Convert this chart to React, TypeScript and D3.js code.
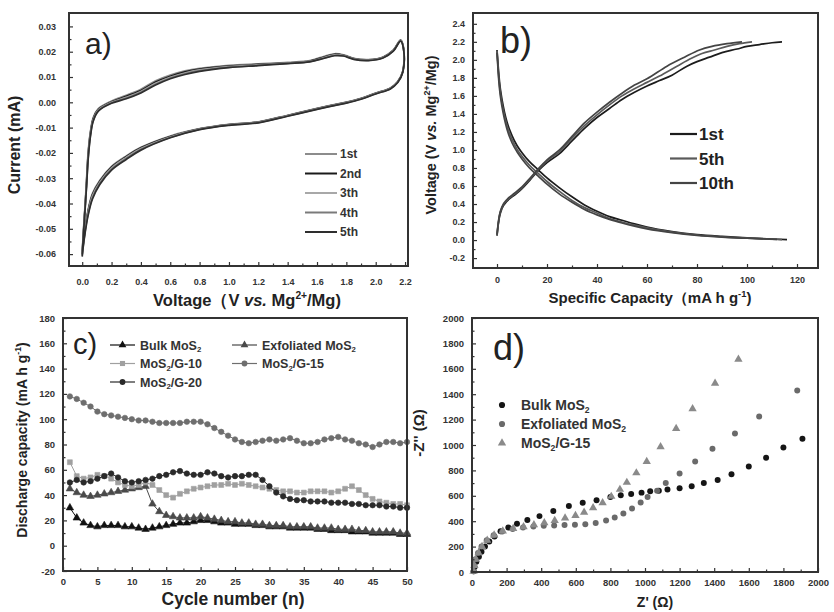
import { useEffect, useRef } from 'react'
import * as d3 from 'd3'

type Pt = [number, number]

const FONT = '"Liberation Sans", Arial, Helvetica, sans-serif'

// ---------- a) cyclic voltammetry: [V, mA] ----------
const cvLabels = ['1st', '2nd', '3th', '4th', '5th']
const cvColors = ['#8c8c8c', '#1a1a1a', '#a8a8a8', '#7a7a7a', '#2e2e2e']
const cv1st: Pt[] = [[0,-0.059],[0.01,-0.049],[0.02,-0.040],[0.03,-0.030],[0.04,-0.020],[0.055,-0.012],[0.075,-0.006],[0.11,-0.0025],[0.2,0.0005],[0.3,0.0028],[0.4,0.0052],[0.5,0.0085],[0.6,0.0108],[0.7,0.0124],[0.8,0.0134],[1.0,0.0146],[1.2,0.0152],[1.4,0.0158],[1.55,0.0165],[1.65,0.0182],[1.72,0.0192],[1.78,0.0188],[1.85,0.0174],[1.95,0.0169],[2.05,0.0179],[2.12,0.0207],[2.17,0.0247],[2.19,0.0215],[2.185,0.0125],[2.15,0.0082],[2.1,0.0057],[2.0,0.0037],[1.9,0.0016],[1.8,0.0001],[1.7,-0.0011],[1.6,-0.0024],[1.4,-0.0051],[1.2,-0.0077],[1.0,-0.0087],[0.8,-0.0104],[0.6,-0.0133],[0.4,-0.0178],[0.3,-0.0212],[0.2,-0.0253],[0.12,-0.0308],[0.07,-0.036],[0.04,-0.0425],[0.02,-0.0495],[0.005,-0.056],[0,-0.059]]
const cv2nd: Pt[] = [[0,-0.060],[0.01,-0.050],[0.02,-0.041],[0.03,-0.031],[0.04,-0.021],[0.055,-0.0125],[0.075,-0.0065],[0.11,-0.0028],[0.2,0.0002],[0.3,0.0024],[0.4,0.0047],[0.5,0.008],[0.6,0.0103],[0.7,0.012],[0.8,0.0131],[1.0,0.0143],[1.2,0.015],[1.4,0.0156],[1.55,0.0163],[1.65,0.0179],[1.72,0.019],[1.78,0.0186],[1.85,0.0173],[1.95,0.0168],[2.05,0.0178],[2.12,0.0205],[2.17,0.0245],[2.19,0.0212],[2.185,0.0123],[2.15,0.0081],[2.1,0.0056],[2.0,0.0036],[1.9,0.0015],[1.8,0.0],[1.7,-0.0012],[1.6,-0.0025],[1.4,-0.0052],[1.2,-0.0078],[1.0,-0.0088],[0.8,-0.0105],[0.6,-0.0135],[0.4,-0.018],[0.3,-0.0215],[0.2,-0.0256],[0.12,-0.0312],[0.07,-0.0365],[0.04,-0.043],[0.02,-0.05],[0.005,-0.057],[0,-0.060]]
const cv3th: Pt[] = [[0,-0.060],[0.01,-0.050],[0.02,-0.041],[0.03,-0.032],[0.04,-0.022],[0.055,-0.013],[0.075,-0.007],[0.11,-0.003],[0.2,0.0],[0.3,0.002],[0.4,0.0043],[0.5,0.0075],[0.6,0.0099],[0.7,0.0116],[0.8,0.0128],[1.0,0.0141],[1.2,0.0148],[1.4,0.0155],[1.55,0.0162],[1.65,0.0177],[1.72,0.0188],[1.78,0.0185],[1.85,0.0172],[1.95,0.0167],[2.05,0.0177],[2.12,0.0204],[2.17,0.0244],[2.19,0.021],[2.185,0.0122],[2.15,0.008],[2.1,0.0055],[2.0,0.0035],[1.9,0.0014],[1.8,-0.0001],[1.7,-0.0013],[1.6,-0.0026],[1.4,-0.0053],[1.2,-0.0079],[1.0,-0.0089],[0.8,-0.0106],[0.6,-0.0137],[0.4,-0.0183],[0.3,-0.0218],[0.2,-0.026],[0.12,-0.0316],[0.07,-0.037],[0.04,-0.0436],[0.02,-0.0505],[0.005,-0.0572],[0,-0.060]]
const cv4th: Pt[] = [[0,-0.0605],[0.01,-0.0505],[0.02,-0.0415],[0.03,-0.0325],[0.04,-0.0225],[0.055,-0.0135],[0.075,-0.0072],[0.11,-0.0032],[0.2,-0.0002],[0.3,0.0017],[0.4,0.004],[0.5,0.0071],[0.6,0.0096],[0.7,0.0113],[0.8,0.0125],[1.0,0.0139],[1.2,0.0147],[1.4,0.0154],[1.55,0.0161],[1.65,0.0175],[1.72,0.0186],[1.78,0.0184],[1.85,0.0171],[1.95,0.0166],[2.05,0.0176],[2.12,0.0203],[2.17,0.0243],[2.19,0.0209],[2.185,0.0121],[2.15,0.0079],[2.1,0.0054],[2.0,0.0034],[1.9,0.0013],[1.8,-0.0002],[1.7,-0.0014],[1.6,-0.0027],[1.4,-0.0054],[1.2,-0.008],[1.0,-0.009],[0.8,-0.0107],[0.6,-0.0139],[0.4,-0.0186],[0.3,-0.0222],[0.2,-0.0264],[0.12,-0.032],[0.07,-0.0376],[0.04,-0.0442],[0.02,-0.051],[0.005,-0.0576],[0,-0.0605]]
const cv5th: Pt[] = [[0,-0.061],[0.01,-0.051],[0.02,-0.042],[0.03,-0.033],[0.04,-0.023],[0.055,-0.014],[0.075,-0.0075],[0.11,-0.0035],[0.2,-0.0004],[0.3,0.0014],[0.4,0.0037],[0.5,0.0068],[0.6,0.0093],[0.7,0.011],[0.8,0.0122],[1.0,0.0137],[1.2,0.0145],[1.4,0.0153],[1.55,0.016],[1.65,0.0174],[1.72,0.0184],[1.78,0.0183],[1.85,0.017],[1.95,0.0165],[2.05,0.0175],[2.12,0.0202],[2.17,0.0242],[2.19,0.0208],[2.185,0.012],[2.15,0.0078],[2.1,0.0053],[2.0,0.0033],[1.9,0.0012],[1.8,-0.0003],[1.7,-0.0015],[1.6,-0.0028],[1.4,-0.0055],[1.2,-0.0081],[1.0,-0.0091],[0.8,-0.0108],[0.6,-0.014],[0.4,-0.0189],[0.3,-0.0226],[0.2,-0.0268],[0.12,-0.0325],[0.07,-0.0382],[0.04,-0.0448],[0.02,-0.0516],[0.005,-0.058],[0,-0.061]]
const cvSeries = [cv1st, cv2nd, cv3th, cv4th, cv5th]
const cvXTicks = [0, 0.2, 0.4, 0.6, 0.8, 1.0, 1.2, 1.4, 1.6, 1.8, 2.0, 2.2]
const cvXMinor = [0.1, 0.3, 0.5, 0.7, 0.9, 1.1, 1.3, 1.5, 1.7, 1.9, 2.1]
const cvYTicks = [0.03, 0.02, 0.01, 0, -0.01, -0.02, -0.03, -0.04, -0.05, -0.06]
const cvYMinor = [0.025, 0.015, 0.005, -0.005, -0.015, -0.025, -0.035, -0.045, -0.055]

// ---------- b) charge / discharge: [mA h g-1, V] ----------
const gcdLabels = ['1st', '5th', '10th']
const gcdColors = ['#1c1c1c', '#5a5a5a', '#444444']
const dis1st: Pt[] = [[0,2.11],[0.5,1.92],[1,1.76],[2,1.56],[3,1.42],[4,1.31],[6,1.16],[8,1.05],[10,0.97],[13,0.87],[16.5,0.78],[20,0.69],[25,0.58],[30,0.48],[35,0.39],[40,0.32],[45,0.26],[50,0.22],[55,0.18],[60,0.145],[70,0.095],[80,0.06],[90,0.04],[100,0.025],[110,0.012],[116,0.005]]
const dis5th: Pt[] = [[0,2.1],[0.5,1.88],[1,1.72],[2,1.52],[3,1.38],[4,1.27],[6,1.12],[8,1.01],[10,0.93],[13,0.83],[16.5,0.74],[20,0.65],[25,0.54],[30,0.44],[35,0.36],[40,0.3],[45,0.24],[50,0.2],[55,0.165],[60,0.135],[70,0.088],[80,0.056],[90,0.036],[100,0.022],[108,0.012],[114,0.006]]
const dis10th: Pt[] = [[0,2.08],[0.5,1.85],[1,1.68],[2,1.48],[3,1.34],[4,1.23],[6,1.08],[8,0.98],[10,0.9],[13,0.8],[16.5,0.71],[20,0.62],[25,0.51],[30,0.42],[35,0.34],[40,0.28],[45,0.23],[50,0.19],[55,0.155],[60,0.125],[70,0.082],[80,0.052],[90,0.033],[100,0.02],[106,0.013],[112,0.007]]
const chg1st: Pt[] = [[0,0.05],[0.5,0.17],[1,0.26],[2,0.35],[4,0.43],[7,0.5],[10,0.57],[13,0.66],[16.5,0.77],[20,0.86],[25,0.96],[30,1.1],[35,1.24],[40,1.36],[45,1.46],[50,1.56],[55,1.64],[60,1.71],[65,1.77],[70,1.83],[76,1.93],[80,1.98],[85,2.03],[90,2.08],[96,2.12],[100,2.15],[105,2.17],[110,2.19],[114,2.2]]
const chg5th: Pt[] = [[0,0.05],[0.5,0.18],[1,0.27],[2,0.36],[4,0.44],[7,0.51],[10,0.58],[13,0.67],[16.5,0.78],[20,0.88],[25,0.98],[30,1.13],[35,1.27],[40,1.39],[45,1.5],[50,1.6],[55,1.68],[60,1.75],[65,1.82],[72,1.93],[78,2.02],[82,2.07],[87,2.11],[92,2.15],[97,2.18],[102,2.2]]
const chg10th: Pt[] = [[0,0.06],[0.5,0.19],[1,0.28],[2,0.37],[4,0.45],[7,0.52],[10,0.59],[13,0.68],[16.5,0.79],[20,0.89],[25,1.0],[30,1.15],[35,1.3],[40,1.42],[45,1.53],[50,1.63],[55,1.72],[60,1.79],[68,1.93],[75,2.03],[81,2.11],[86,2.15],[92,2.18],[98,2.2]]
const gcdSeries = [[dis1st, chg1st], [dis5th, chg5th], [dis10th, chg10th]]
const gcdXTicks = [0, 20, 40, 60, 80, 100, 120]
const gcdXMinor = [10, 30, 50, 70, 90, 110]
const gcdYTicks = [2.4, 2.2, 2.0, 1.8, 1.6, 1.4, 1.2, 1.0, 0.8, 0.6, 0.4, 0.2, 0, -0.2]
const gcdYMinor = [2.3, 2.1, 1.9, 1.7, 1.5, 1.3, 1.1, 0.9, 0.7, 0.5, 0.3, 0.1, -0.1]

// ---------- c) cycling: discharge capacity per cycle 1..50 ----------
const cycleLabels = ['Bulk MoS₂', 'Exfoliated MoS₂', 'MoS₂/G-10', 'MoS₂/G-15', 'MoS₂/G-20']
const cycleColors = ['#111111', '#4a4a4a', '#a0a0a0', '#6e6e6e', '#2a2a2a']
const bulkCap = [30,22,18,16,15,16,16,16,15,15,14,13,14,15,16,17,18,18,19,20,20,19,18,18,17,17,17,16,16,15,15,15,14,14,14,14,13,13,12,12,12,11,11,11,10,10,10,10,9,9]
const exfCap = [45,42,40,39,40,41,42,43,44,45,46,47,33,27,24,23,22,22,22,23,22,21,20,19,19,18,18,17,17,16,16,16,15,15,15,15,14,14,14,13,13,13,12,12,11,11,11,11,10,10]
const g10Cap = [66,55,53,54,56,55,53,50,48,47,48,50,48,44,40,38,41,43,45,46,47,48,48,49,48,49,48,47,46,45,44,43,43,42,42,43,43,43,42,43,45,47,44,40,37,35,34,33,33,32]
const g15Cap = [118,116,113,110,106,104,103,102,101,100,99,99,98,97,97,97,97,98,98,98,96,93,90,87,84,82,81,82,83,84,83,84,85,83,81,81,82,84,85,86,84,83,81,80,78,80,82,82,81,82]
const g20Cap = [50,52,50,51,53,55,57,54,51,50,51,52,53,55,56,58,59,57,56,56,58,57,55,54,55,55,56,56,52,47,42,39,37,36,36,35,35,35,34,34,34,33,33,32,32,32,31,31,30,30]
const cycleSeries = [bulkCap, exfCap, g10Cap, g15Cap, g20Cap]
const cycleSymbols = [d3.symbolTriangle, d3.symbolTriangle, d3.symbolSquare, d3.symbolCircle, d3.symbolCircle]
const cycleXTicks = [0, 5, 10, 15, 20, 25, 30, 35, 40, 45, 50]
const cycleXMinor = [2.5, 7.5, 12.5, 17.5, 22.5, 27.5, 32.5, 37.5, 42.5, 47.5]
const cycleYTicks = [180, 160, 140, 120, 100, 80, 60, 40, 20, 0, -20]
const cycleYMinor = [170, 150, 130, 110, 90, 70, 50, 30, 10, -10]

// ---------- d) Nyquist: [Z', -Z''] ----------
const eisLabels = ['Bulk MoS₂', 'Exfoliated MoS₂', 'MoS₂/G-15']
const eisColors = ['#151515', '#6a6a6a', '#8a8a8a']
const eisBulk: Pt[] = [[10,5],[15,40],[25,80],[40,120],[55,160],[75,200],[100,240],[130,280],[165,320],[210,350],[260,380],[320,410],[390,440],[470,480],[560,520],[640,545],[720,565],[800,590],[860,605],[920,615],[980,625],[1030,635],[1080,640],[1130,650],[1200,660],[1270,675],[1340,700],[1420,725],[1500,770],[1600,830],[1700,900],[1800,980],[1910,1050]]
const eisExf: Pt[] = [[8,5],[12,50],[20,100],[35,150],[55,200],[85,250],[125,290],[175,318],[235,338],[295,350],[355,358],[415,364],[475,367],[535,370],[595,372],[655,376],[715,386],[775,405],[825,430],[875,460],[925,500],[975,548],[1015,590],[1070,640],[1120,700],[1200,775],[1290,870],[1390,970],[1520,1090],[1660,1225],[1880,1430]]
const eisG15: Pt[] = [[9,5],[14,50],[22,100],[38,150],[58,200],[88,250],[128,290],[178,322],[238,342],[298,356],[358,372],[418,388],[478,405],[538,425],[598,445],[648,470],[700,505],[755,545],[805,595],[855,650],[895,705],[950,780],[1010,870],[1090,985],[1180,1130],[1275,1285],[1405,1485],[1540,1675]]
const eisSeries = [eisBulk, eisExf, eisG15]
const eisSymbols = [d3.symbolCircle, d3.symbolCircle, d3.symbolTriangle]
const eisTicks = [0, 200, 400, 600, 800, 1000, 1200, 1400, 1600, 1800, 2000]
const eisMinor = [100, 300, 500, 700, 900, 1100, 1300, 1500, 1700, 1900]

type Part = [string, string?]

function rich(sel: any, parts: Part[], size: number) {
  let shift = 0
  parts.forEach(([t, k]) => {
    const ts = sel.append('tspan').text(t)
    let target = 0
    if (k === 'sup') target = -size * 0.42
    if (k === 'sub') target = size * 0.22
    if (k === 'sup' || k === 'sub') ts.attr('font-size', size * 0.62)
    if (k === 'it') ts.attr('font-style', 'italic')
    if (target !== shift) { ts.attr('dy', target - shift); shift = target }
  })
}

function label(svg: any, x: number, y: number, parts: Part[], size: number, rotate = false, weight = 'bold') {
  const t = svg.append('text')
    .attr('font-family', FONT).attr('font-weight', weight).attr('font-size', size)
    .attr('fill', '#222').attr('text-anchor', 'middle')
  if (rotate) t.attr('transform', `translate(${x},${y}) rotate(-90)`)
  else t.attr('x', x).attr('y', y)
  rich(t, parts, size)
  return t
}

function frame(svg: any, x: any, y: any, o: any) {
  const g = svg.append('g')
  const [x0, x1] = x.range()
  const [y0, y1] = y.range()
  const bx = g.append('g').attr('transform', `translate(0,${y0})`)
    .call(d3.axisBottom(x).tickValues(o.xTicks).tickFormat(o.xFmt).tickSizeInner(-4).tickSizeOuter(0).tickPadding(o.xPad))
  const bm = g.append('g').attr('transform', `translate(0,${y0})`)
    .call(d3.axisBottom(x).tickValues(o.xMinor).tickFormat(() => '').tickSizeInner(-2.5).tickSizeOuter(0))
  const ly = g.append('g').attr('transform', `translate(${x0},0)`)
    .call(d3.axisLeft(y).tickValues(o.yTicks).tickFormat(o.yFmt).tickSizeInner(-4).tickSizeOuter(0).tickPadding(o.yPad))
  const lm = g.append('g').attr('transform', `translate(${x0},0)`)
    .call(d3.axisLeft(y).tickValues(o.yMinor).tickFormat(() => '').tickSizeInner(-2.5).tickSizeOuter(0))
  ;[bx, bm, ly, lm].forEach(a => a.select('.domain').remove())
  g.selectAll('.tick line').attr('stroke', '#333').attr('stroke-width', 1.2)
  g.selectAll('.tick text').attr('font-family', FONT).attr('font-weight', 'bold')
    .attr('font-size', o.tickSize).attr('fill', '#333')
  g.append('rect').attr('x', x0).attr('y', y1).attr('width', x1 - x0).attr('height', y0 - y1)
    .attr('fill', 'none').attr('stroke', '#333').attr('stroke-width', 2)
}

const fmt = (d: number) => (digits: number) => (Math.abs(d) < 1e-9 ? 0 : d).toFixed(digits)

const App = () => {
  const svgRef = useRef<SVGSVGElement>(null)

  useEffect(() => {
    const svg = d3.select(svgRef.current)
    svg.selectAll('*').remove()

    // ===== a =====
    const xa = d3.scaleLinear().domain([-0.09, 2.22]).range([69, 408])
    const ya = d3.scaleLinear().domain([-0.0647, 0.0353]).range([266, 13])
    const lineA = d3.line<Pt>().x(d => xa(d[0])).y(d => ya(d[1])).curve(d3.curveCatmullRom.alpha(0.5))
    cvSeries.forEach((s, i) => {
      svg.append('path').datum(s).attr('fill', 'none').attr('stroke', cvColors[i])
        .attr('stroke-width', 1.7).attr('d', lineA)
    })
    frame(svg, xa, ya, {
      xTicks: cvXTicks, xMinor: cvXMinor, yTicks: cvYTicks, yMinor: cvYMinor,
      xFmt: (d: number) => fmt(d)(1), yFmt: (d: number) => fmt(d)(2), xPad: 13, yPad: 13, tickSize: 9
    })
    svg.append('text').attr('x', 85).attr('y', 54).attr('font-family', FONT).attr('font-size', 30).attr('fill', '#222').text('a)')
    cvLabels.forEach((l, i) => {
      const yy = 154 + i * 19.5
      svg.append('line').attr('x1', 305).attr('x2', 337).attr('y1', yy).attr('y2', yy)
        .attr('stroke', cvColors[i]).attr('stroke-width', 2)
      svg.append('text').attr('x', 340).attr('y', yy + 4).attr('font-family', FONT).attr('font-weight', 'bold')
        .attr('font-size', 12).attr('fill', '#333').text(l)
    })
    label(svg, 20, 145, [['Current (mA)']], 16, true)
    label(svg, 247, 306, [['Voltage（V '], ['vs.', 'it'], [' Mg'], ['2+', 'sup'], ['/Mg)']], 16.5)

    // ===== b =====
    const xb = d3.scaleLinear().domain([-9.6, 128.4]).range([473, 818])
    const yb = d3.scaleLinear().domain([-0.31, 2.52]).range([268, 13])
    const lineB = d3.line<Pt>().x(d => xb(d[0])).y(d => yb(d[1])).curve(d3.curveMonotoneX)
    gcdSeries.forEach((pair, i) => {
      pair.forEach(s => {
        svg.append('path').datum(s).attr('fill', 'none').attr('stroke', gcdColors[i])
          .attr('stroke-width', 1.7).attr('d', lineB)
      })
    })
    frame(svg, xb, yb, {
      xTicks: gcdXTicks, xMinor: gcdXMinor, yTicks: gcdYTicks, yMinor: gcdYMinor,
      xFmt: (d: number) => String(d), yFmt: (d: number) => fmt(d)(1), xPad: 9, yPad: 8, tickSize: 9
    })
    svg.append('text').attr('x', 500).attr('y', 53).attr('font-family', FONT).attr('font-size', 36).attr('fill', '#222').text('b)')
    gcdLabels.forEach((l, i) => {
      const yy = 134 + i * 24.5
      svg.append('line').attr('x1', 670).attr('x2', 697).attr('y1', yy).attr('y2', yy)
        .attr('stroke', gcdColors[i]).attr('stroke-width', 2.2)
      svg.append('text').attr('x', 699).attr('y', yy + 6).attr('font-family', FONT).attr('font-weight', 'bold')
        .attr('font-size', 17).attr('fill', '#222').text(l)
    })
    label(svg, 436, 135, [['Voltage (V '], ['vs.', 'it'], [' Mg'], ['2+', 'sup'], ['/Mg)']], 14.5, true)
    label(svg, 650, 303, [['Specific Capacity（mA h g'], ['-1', 'sup'], [')']], 15)

    // ===== c =====
    const xc = d3.scaleLinear().domain([0, 50]).range([63, 407])
    const yc = d3.scaleLinear().domain([-20, 180]).range([571, 318])
    const lineC = d3.line<number>().x((_, i) => xc(i + 1)).y(d => yc(d))
    cycleSeries.forEach((s, i) => {
      const g = svg.append('g')
      g.append('path').datum(s).attr('fill', 'none').attr('stroke', cycleColors[i]).attr('stroke-width', 1).attr('d', lineC)
      g.selectAll('path.m').data(s).enter().append('path').attr('class', 'm')
        .attr('transform', (d, j) => `translate(${xc(j + 1)},${yc(d)})`)
        .attr('d', d3.symbol().type(cycleSymbols[i]).size(24)())
        .attr('fill', cycleColors[i]).attr('stroke', cycleColors[i]).attr('stroke-width', 0.6)
    })
    frame(svg, xc, yc, {
      xTicks: cycleXTicks, xMinor: cycleXMinor, yTicks: cycleYTicks, yMinor: cycleYMinor,
      xFmt: (d: number) => String(d), yFmt: (d: number) => String(d), xPad: 7, yPad: 8, tickSize: 9.5
    })
    svg.append('text').attr('x', 73).attr('y', 354).attr('font-family', FONT).attr('font-size', 29).attr('fill', '#222').text('c)')
    cycleLabels.forEach((l, i) => {
      const col = i % 2, row = Math.floor(i / 2)
      const lx = col === 0 ? 110 : 232
      const yy = 345 + row * 18.5
      svg.append('line').attr('x1', lx).attr('x2', lx + 25).attr('y1', yy).attr('y2', yy)
        .attr('stroke', cycleColors[i]).attr('stroke-width', 1.2)
      svg.append('path').attr('transform', `translate(${lx + 12.5},${yy})`)
        .attr('d', d3.symbol().type(cycleSymbols[i]).size(26)()).attr('fill', cycleColors[i])
      const parts: Part[] = l.split('₂').flatMap((p, k, arr) => (k < arr.length - 1 ? [[p] as Part, ['2', 'sub'] as Part] : [[p] as Part]))
      const t = svg.append('text').attr('x', lx + 30).attr('y', yy + 4.5).attr('font-family', FONT)
        .attr('font-weight', 'bold').attr('font-size', 12.5).attr('fill', '#333')
      rich(t, parts, 12.5)
    })
    label(svg, 27, 440, [['Discharge capacity (mA h g'], ['-1', 'sup'], [')']], 14, true)
    label(svg, 233, 605, [['Cycle number (n)']], 17.5)

    // ===== d =====
    const xd = d3.scaleLinear().domain([0, 2000]).range([472, 818])
    const yd = d3.scaleLinear().domain([0, 2000]).range([572, 318])
    eisSeries.forEach((s, i) => {
      svg.append('g').selectAll('path').data(s).enter().append('path')
        .attr('transform', d => `translate(${xd(d[0])},${yd(d[1])})`)
        .attr('d', d3.symbol().type(eisSymbols[i]).size(i === 2 ? 30 : 28)())
        .attr('fill', eisColors[i])
    })
    frame(svg, xd, yd, {
      xTicks: eisTicks, xMinor: eisMinor, yTicks: eisTicks, yMinor: eisMinor,
      xFmt: (d: number) => String(d), yFmt: (d: number) => String(d), xPad: 7, yPad: 8, tickSize: 9.5
    })
    svg.append('text').attr('x', 493).attr('y', 360).attr('font-family', FONT).attr('font-size', 36).attr('fill', '#222').text('d)')
    eisLabels.forEach((l, i) => {
      const yy = 405 + i * 19
      svg.append('path').attr('transform', `translate(502,${yy})`)
        .attr('d', d3.symbol().type(eisSymbols[i]).size(30)()).attr('fill', eisColors[i])
      const parts: Part[] = l.split('₂').flatMap((p, k, arr) => (k < arr.length - 1 ? [[p] as Part, ['2', 'sub'] as Part] : [[p] as Part]))
      const t = svg.append('text').attr('x', 521).attr('y', yy + 5).attr('font-family', FONT)
        .attr('font-weight', 'bold').attr('font-size', 14).attr('fill', '#333')
      rich(t, parts, 14)
    })
    label(svg, 424, 433, [["-Z'' (Ω)"]], 15, true)
    label(svg, 655, 607, [["Z' (Ω)"]], 14)
  }, [])

  return (
    <svg ref={svgRef} width={834} height={612}
      style={{ position: 'absolute', left: 0, top: 0, background: '#fff' }} />
  )
}

export default App
